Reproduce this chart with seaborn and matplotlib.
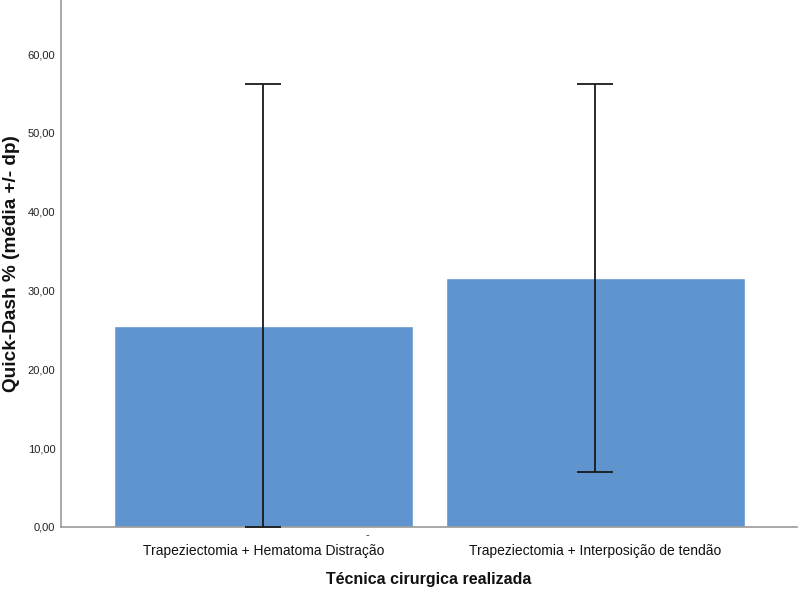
import numpy as np
import pandas as pd
import matplotlib
matplotlib.use("Agg")
import matplotlib.pyplot as plt
import seaborn as sns

# Values: mean and sd of Quick-Dash per technique
tecnicas = ["Trapeziectomia + Hematoma Distração", "Trapeziectomia + Interposição de tendão"]
media = [25.5, 31.6]
dp = [30.7, 24.6]
y_ticks = [0, 10, 20, 30, 40, 50, 60]

df = pd.DataFrame({"tecnica": tecnicas, "media": media, "dp": dp})

sns.set_style("white")
plt.rcParams["font.family"] = ["Liberation Sans", "DejaVu Sans"]

fig = plt.figure(figsize=(8, 5.94), dpi=100)
ax = fig.add_axes([0.07625, 0.1128, 0.91975, 0.8872])

sns.barplot(data=df, x="tecnica", y="media", color="#5f94cf", width=0.9,
            saturation=1, errorbar=None, ax=ax)

# SPSS clips the lower whisker at the axis
lower = np.minimum(df["dp"], df["media"])
eb = ax.errorbar(np.arange(len(df)), df["media"], yerr=[lower, df["dp"]],
                 fmt="none", ecolor="#1a1a1a", elinewidth=1.3, capsize=13, capthick=1.3,
                 zorder=5)
for art in eb.lines[1]:
    art.set_clip_on(False)

ax.set_xlim(-0.61, 1.607)
ax.set_ylim(0, 66.85)
ax.set_yticks(y_ticks)
ax.set_yticklabels([f"{v:.2f}".replace(".", ",") for v in y_ticks], fontsize=8, color="#222222")
ax.set_xticks(range(len(tecnicas)))
ax.set_xticklabels(tecnicas, fontsize=10, color="#111111")
ax.tick_params(axis="both", length=0, pad=4)
ax.tick_params(axis="x", pad=12)

for s in ["top", "right"]:
    ax.spines[s].set_visible(False)
for s in ["left", "bottom"]:
    ax.spines[s].set_color("#999999")
    ax.spines[s].set_linewidth(1.2)

ax.set_ylabel("Quick-Dash % (média +/- dp)", fontsize=13.7, fontweight="bold", color="#111111")
ax.yaxis.set_label_coords(-0.056, 0.5)
ax.set_xlabel("Técnica cirurgica realizada", fontsize=11.5, fontweight="bold", color="#111111")
ax.xaxis.set_label_coords(0.5, -0.085)

ax.text(0.417, -0.016, "-", transform=ax.transAxes, ha="center", va="center", fontsize=8)

plt.savefig("out.png", dpi=100)
